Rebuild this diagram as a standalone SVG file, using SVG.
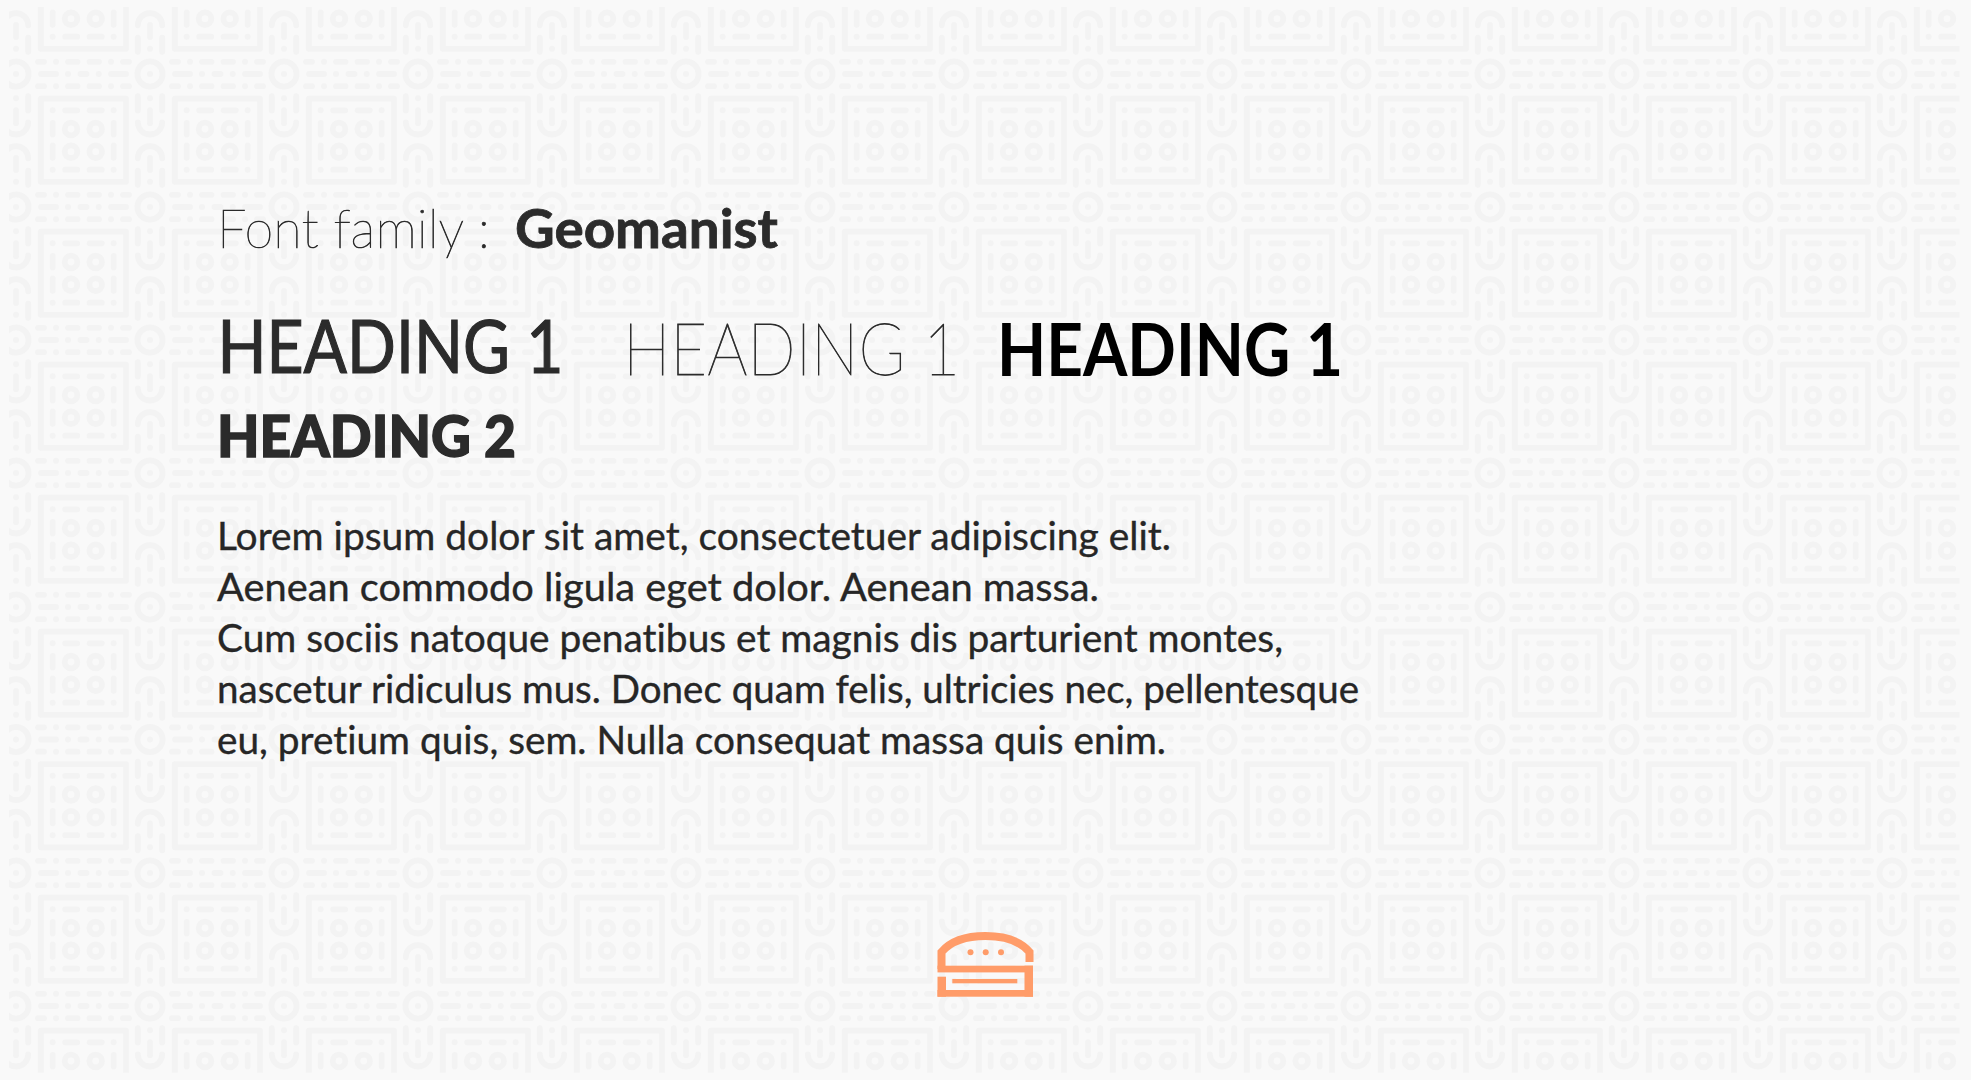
<svg xmlns="http://www.w3.org/2000/svg" xmlns:xlink="http://www.w3.org/1999/xlink" width="1971" height="1080" viewBox="0 0 1971 1080">
<style>
.t{font-family:"Lato","Noto Sans",sans-serif;fill:#2b2b2b;font-variant-ligatures:none}
.b{font-size:38px;font-weight:400;fill:#262626;stroke:#262626;stroke-width:.35}
.p{fill:none;stroke:#f3f3f3;stroke-width:5.8;stroke-linecap:round;stroke-linejoin:round}
.d{fill:#f3f3f3}
.o{fill:#ff9c69}
</style>
<defs>
<clipPath id="c"><rect x="9" y="7" width="1950.5" height="1065.7"/></clipPath>
<g id="tile">
<g class="p">
<circle cx="0" cy="0" r="12.6"/>
<path id="h1" d="M22 -12.2H28M52 -12.2H61.5M73.5 -12.2H83M107 -12.2H113"/>
<path d="M25 0H40M64.5 0H70.5M95 0H110"/>
<path d="M22 12.2H28M52 12.2H61.5M73.5 12.2H83M107 12.2H113"/>
<rect x="24.8" y="24.6" width="85.2" height="83.2"/>
<path d="M49.2 36.3H61.2M73.6 36.3H85.8M49.2 95.7H61.2M73.6 95.7H85.8"/>
<path d="M36.7 49V60.5M97.7 49V60.5M36.7 71.5V83.8M97.7 71.5V83.8"/>
<circle cx="55" cy="55" r="6.3"/><circle cx="79.7" cy="55" r="6.3"/>
<circle cx="55" cy="77.7" r="6.3"/><circle cx="79.7" cy="77.7" r="6.3"/>
<path d="M-12.2 22.2V36.5M12.2 22.2V36.5M0 36.2V49.2"/>
<path d="M-12.2 48.3A12.2 12.2 0 0 0 12.2 48.3"/>
<path d="M-12.2 84.3A12.2 12.2 0 0 1 12.2 84.3"/>
<path d="M0 84V96M-12.2 96.6V110.8M12.2 96.6V110.8"/>
</g>
<g class="d">
<circle cx="0" cy="0" r="3"/>
<circle cx="40" cy="-12.2" r="3"/><circle cx="95" cy="-12.2" r="3"/>
<circle cx="52" cy="0" r="3"/><circle cx="82.7" cy="0" r="3"/>
<circle cx="40" cy="12.2" r="3"/><circle cx="95" cy="12.2" r="3"/>
<circle cx="36.7" cy="36.3" r="3"/><circle cx="97.7" cy="36.3" r="3"/>
<circle cx="36.7" cy="95.7" r="3"/><circle cx="97.7" cy="95.7" r="3"/>
<circle cx="0" cy="24.3" r="3"/><circle cx="0" cy="107.7" r="3"/>
</g>
</g>
<g id="row">
<use href="#tile" x="16"/><use href="#tile" x="150"/><use href="#tile" x="284"/><use href="#tile" x="418"/><use href="#tile" x="552"/><use href="#tile" x="686"/><use href="#tile" x="820"/><use href="#tile" x="954"/><use href="#tile" x="1088"/><use href="#tile" x="1222"/><use href="#tile" x="1356"/><use href="#tile" x="1490"/><use href="#tile" x="1624"/><use href="#tile" x="1758"/><use href="#tile" x="1892"/>
</g>
</defs>
<rect width="1971" height="1080" fill="#f9f9f9"/>
<g id="pattern" clip-path="url(#c)">
<use href="#row" y="-59"/><use href="#row" y="74"/><use href="#row" y="207"/><use href="#row" y="340"/><use href="#row" y="473"/><use href="#row" y="607"/><use href="#row" y="739.5"/><use href="#row" y="873"/><use href="#row" y="1006"/>
</g>
<g id="font-line">
<text class="t" x="217" y="248.3" font-size="54" font-weight="200" textLength="273" lengthAdjust="spacingAndGlyphs" stroke="#2b2b2b" stroke-width=".7">Font family :</text>
<text class="t" x="515" y="248.3" font-size="54" font-weight="700" textLength="263" lengthAdjust="spacingAndGlyphs" stroke="#2b2b2b" stroke-width=".8">Geomanist</text>
</g>
<g id="headings">
<text class="t" x="217.5" y="373.3" font-size="73" font-weight="400" textLength="346" lengthAdjust="spacingAndGlyphs" stroke="#2b2b2b" stroke-width="1.2">HEADING 1</text>
<text class="t" x="623" y="375" font-size="73" font-weight="200" textLength="337" lengthAdjust="spacingAndGlyphs" stroke="#2b2b2b" stroke-width=".8">HEADING 1</text>
<text class="t" x="997" y="376" font-size="73" font-weight="700" textLength="346" lengthAdjust="spacingAndGlyphs" style="fill:#000">HEADING 1</text>
<text class="t" x="217" y="456.7" font-size="58" font-weight="900" textLength="299" lengthAdjust="spacingAndGlyphs" stroke="#2b2b2b" stroke-width="1.4">HEADING 2</text>
</g>
<g id="body">
<text class="t b" x="217" y="550" textLength="954" lengthAdjust="spacingAndGlyphs">Lorem ipsum dolor sit amet, consectetuer adipiscing elit.</text>
<text class="t b" x="217" y="601" textLength="882" lengthAdjust="spacingAndGlyphs">Aenean commodo ligula eget dolor. Aenean massa.</text>
<text class="t b" x="217" y="651.7" textLength="1066" lengthAdjust="spacingAndGlyphs">Cum sociis natoque penatibus et magnis dis parturient montes,</text>
<text class="t b" x="217" y="703" textLength="1142" lengthAdjust="spacingAndGlyphs">nascetur ridiculus mus. Donec quam felis, ultricies nec, pellentesque</text>
<text class="t b" x="217" y="754" textLength="949" lengthAdjust="spacingAndGlyphs">eu, pretium quis, sem. Nulla consequat massa quis enim.</text>
</g>
<g id="burger">
<path d="M941.5 969V952Q955 936 985.5 936T1029.5 952V962" fill="none" stroke="#ff9c69" stroke-width="8"/>
<rect class="o" x="937.5" y="965.7" width="95.5" height="6.7"/>
<rect class="o" x="1024.5" y="965.7" width="8.5" height="31"/>
<rect class="o" x="937.5" y="990" width="95.5" height="6.7"/>
<rect class="o" x="937.5" y="976.7" width="8.5" height="20"/>
<rect class="o" x="952.3" y="979" width="65" height="4.3"/>
<circle class="o" cx="970.5" cy="952.3" r="3"/><circle class="o" cx="985.7" cy="952.3" r="3"/><circle class="o" cx="1001" cy="952.3" r="3"/>
</g>
</svg>
